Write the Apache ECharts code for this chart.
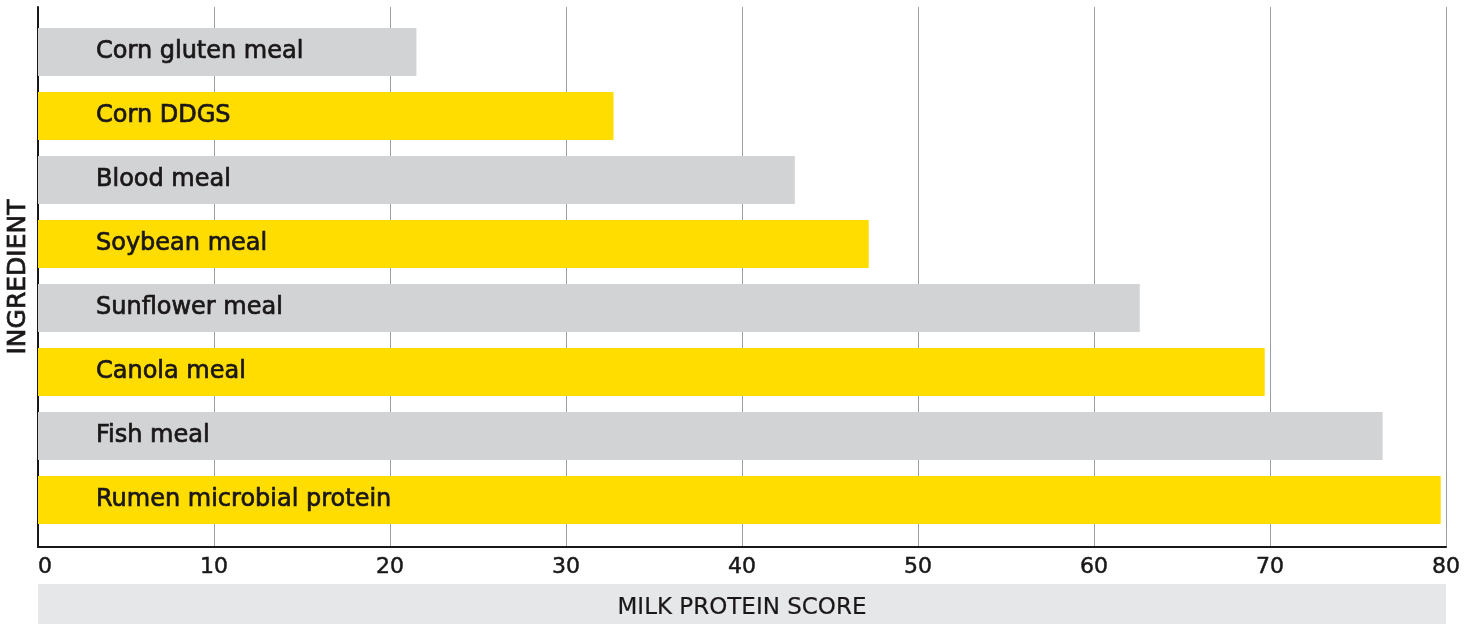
<!DOCTYPE html>
<html>
<head>
<meta charset="utf-8">
<script src="https://cdn.jsdelivr.net/npm/echarts@6/dist/echarts.min.js"></script>
<style>
  html, body { margin: 0; padding: 0; background: #ffffff; }
  #chart { width: 1476px; height: 624px; }
</style>
</head>
<body>
<div id="chart"></div>
<script>
// Milk protein score by feed ingredient
const ingredients = [
  'Corn gluten meal',
  'Corn DDGS',
  'Blood meal',
  'Soybean meal',
  'Sunflower meal',
  'Canola meal',
  'Fish meal',
  'Rumen microbial protein'
];
const scores = [21.5, 32.7, 43.0, 47.2, 62.6, 69.7, 76.4, 79.7];
const xTicks = [0, 10, 20, 30, 40, 50, 60, 70, 80];

const FONT = '"DejaVu Sans", "Noto Sans", sans-serif';
const INK = '#1a1718';
const GREY = '#d1d3d4';
const YELLOW = '#ffdd00';

const chart = echarts.init(document.getElementById('chart'), null, { renderer: 'canvas' });

chart.setOption({
  animation: false,
  backgroundColor: '#ffffff',
  textStyle: { fontFamily: FONT },
  graphic: [{
    type: 'rect',
    left: 38,
    top: 584,
    shape: { width: 1408, height: 40 },
    style: { fill: '#e6e7e8' },
    z: -10
  }],
  grid: [
    { left: 38, right: 30, top: 7, bottom: 77, outerBoundsMode: 'none' },
    { left: 38, right: 30, top: 20, height: 512, outerBoundsMode: 'none' }
  ],
  xAxis: [
    {
      gridIndex: 0,
      type: 'value',
      min: xTicks[0],
      max: xTicks[xTicks.length - 1],
      interval: xTicks[1] - xTicks[0],
      axisLine: { show: true, lineStyle: { color: INK, width: 2 } },
      axisTick: { show: false },
      splitLine: { show: true, lineStyle: { color: '#9d9fa2', width: 1 } },
      axisLabel: {
        color: INK, fontSize: 22, fontFamily: FONT, margin: 9,
        alignMinLabel: 'left',
        textBorderColor: INK, textBorderWidth: 0.5
      },
      name: 'MILK PROTEIN SCORE',
      nameLocation: 'middle',
      nameGap: 50,
      nameTextStyle: {
        color: INK, fontSize: 23, fontFamily: FONT,
        textBorderColor: INK, textBorderWidth: 0.2
      }
    },
    {
      gridIndex: 1,
      type: 'value',
      min: xTicks[0],
      max: xTicks[xTicks.length - 1],
      show: false
    }
  ],
  yAxis: [
    {
      gridIndex: 0,
      type: 'value',
      min: 0,
      max: 1,
      axisLine: { show: true, lineStyle: { color: INK, width: 2 } },
      axisTick: { show: false },
      axisLabel: { show: false },
      splitLine: { show: false },
      name: 'INGREDIENT',
      nameLocation: 'middle',
      nameRotate: 90,
      nameGap: 7,
      nameTextStyle: {
        color: INK, fontSize: 25, fontFamily: FONT,
        textBorderColor: INK, textBorderWidth: 0.7
      }
    },
    {
      gridIndex: 1,
      type: 'category',
      inverse: true,
      data: ingredients,
      show: false
    }
  ],
  series: [{
    type: 'bar',
    xAxisIndex: 1,
    yAxisIndex: 1,
    barWidth: 48,
    data: scores.map((v, i) => ({
      value: v,
      itemStyle: { color: i % 2 === 0 ? GREY : YELLOW }
    })),
    label: {
      show: true,
      position: [58, '50%'],
      align: 'left',
      verticalAlign: 'middle',
      formatter: '{b}',
      color: INK,
      fontSize: 24,
      fontFamily: FONT,
      textBorderColor: INK,
      textBorderWidth: 0.7
    }
  }]
});
</script>
</body>
</html>
